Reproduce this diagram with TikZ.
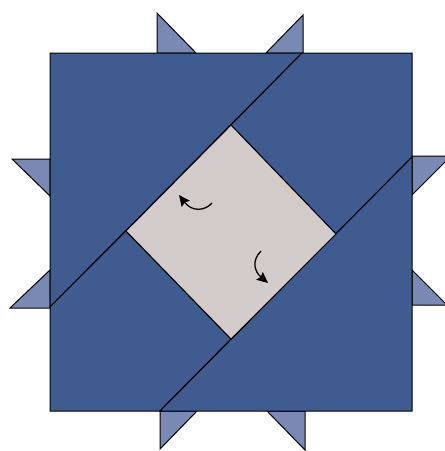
\documentclass[tikz,border=0pt]{standalone}
\usetikzlibrary{arrows.meta}
\definecolor{darkblue}{RGB}{64,91,143}
\definecolor{lightblue}{RGB}{122,137,180}
\definecolor{greypiece}{RGB}{211,202,202}
\begin{document}
\begin{tikzpicture}[x=1pt,y=-1pt,line join=miter,
  piece/.style={draw=black,line width=1pt,fill=darkblue},
  point/.style={draw=black,line width=1pt,fill=lightblue},
  centre/.style={draw=black,line width=1pt,fill=greypiece},
  turn/.style={line width=1.3pt,-{Stealth[length=11pt,width=10pt,inset=1.5pt]}}]
\useasboundingbox (0,0) rectangle (445,451);
% corners of the square and the diamond
\coordinate (tl) at (50,53);
\coordinate (tr) at (412,53);
\coordinate (bl) at (50,411);
\coordinate (br) at (412,411);
\coordinate (a1) at (302,53);
\coordinate (a2) at (50,307);
\coordinate (b1) at (412,157);
\coordinate (b2) at (160,411);
\coordinate (dt) at (231,125);
\coordinate (dl) at (126,231);
\coordinate (dr) at (336,234);
\coordinate (db) at (231,339);
% small outer triangles
\draw[point] (157,13) -- (157,53) -- (196,53) -- cycle;
\draw[point] (303,15) -- (303,53) -- (266,53) -- cycle;
\draw[point] (12,159) -- (50,159) -- (50,196) -- cycle;
\draw[point] (10,308) -- (50,308) -- (50,270) -- cycle;
\draw[point] (412,156) -- (451,156) -- (412,195) -- cycle;
\draw[point] (412,305) -- (447,305) -- (412,270) -- cycle;
\draw[point] (160,411) -- (160,449) -- (197,411) -- cycle;
\draw[point] (305,411) -- (305,450) -- (267,411) -- cycle;
% big square pieces
\draw[piece] (tl) -- (a1) -- (a2) -- cycle;
\draw[piece] (a1) -- (tr) -- (b1) -- (dr) -- (dt) -- cycle;
\draw[piece] (a2) -- (dl) -- (db) -- (b2) -- (bl) -- cycle;
\draw[piece] (b1) -- (br) -- (b2) -- cycle;
% centre diamond
\draw[centre] (dt) -- (dr) -- (db) -- (dl) -- cycle;
% turning arrows
\coordinate (s1) at (212,203);
\coordinate (e1) at (179,195);
\coordinate (s2) at (261,251);
\coordinate (e2) at (268,283);
\draw[turn] (s1) .. controls (205,211) and (192,212) .. (e1);
\draw[turn] (s2) .. controls (251,261) and (255,272) .. (e2);
\end{tikzpicture}
\end{document}
